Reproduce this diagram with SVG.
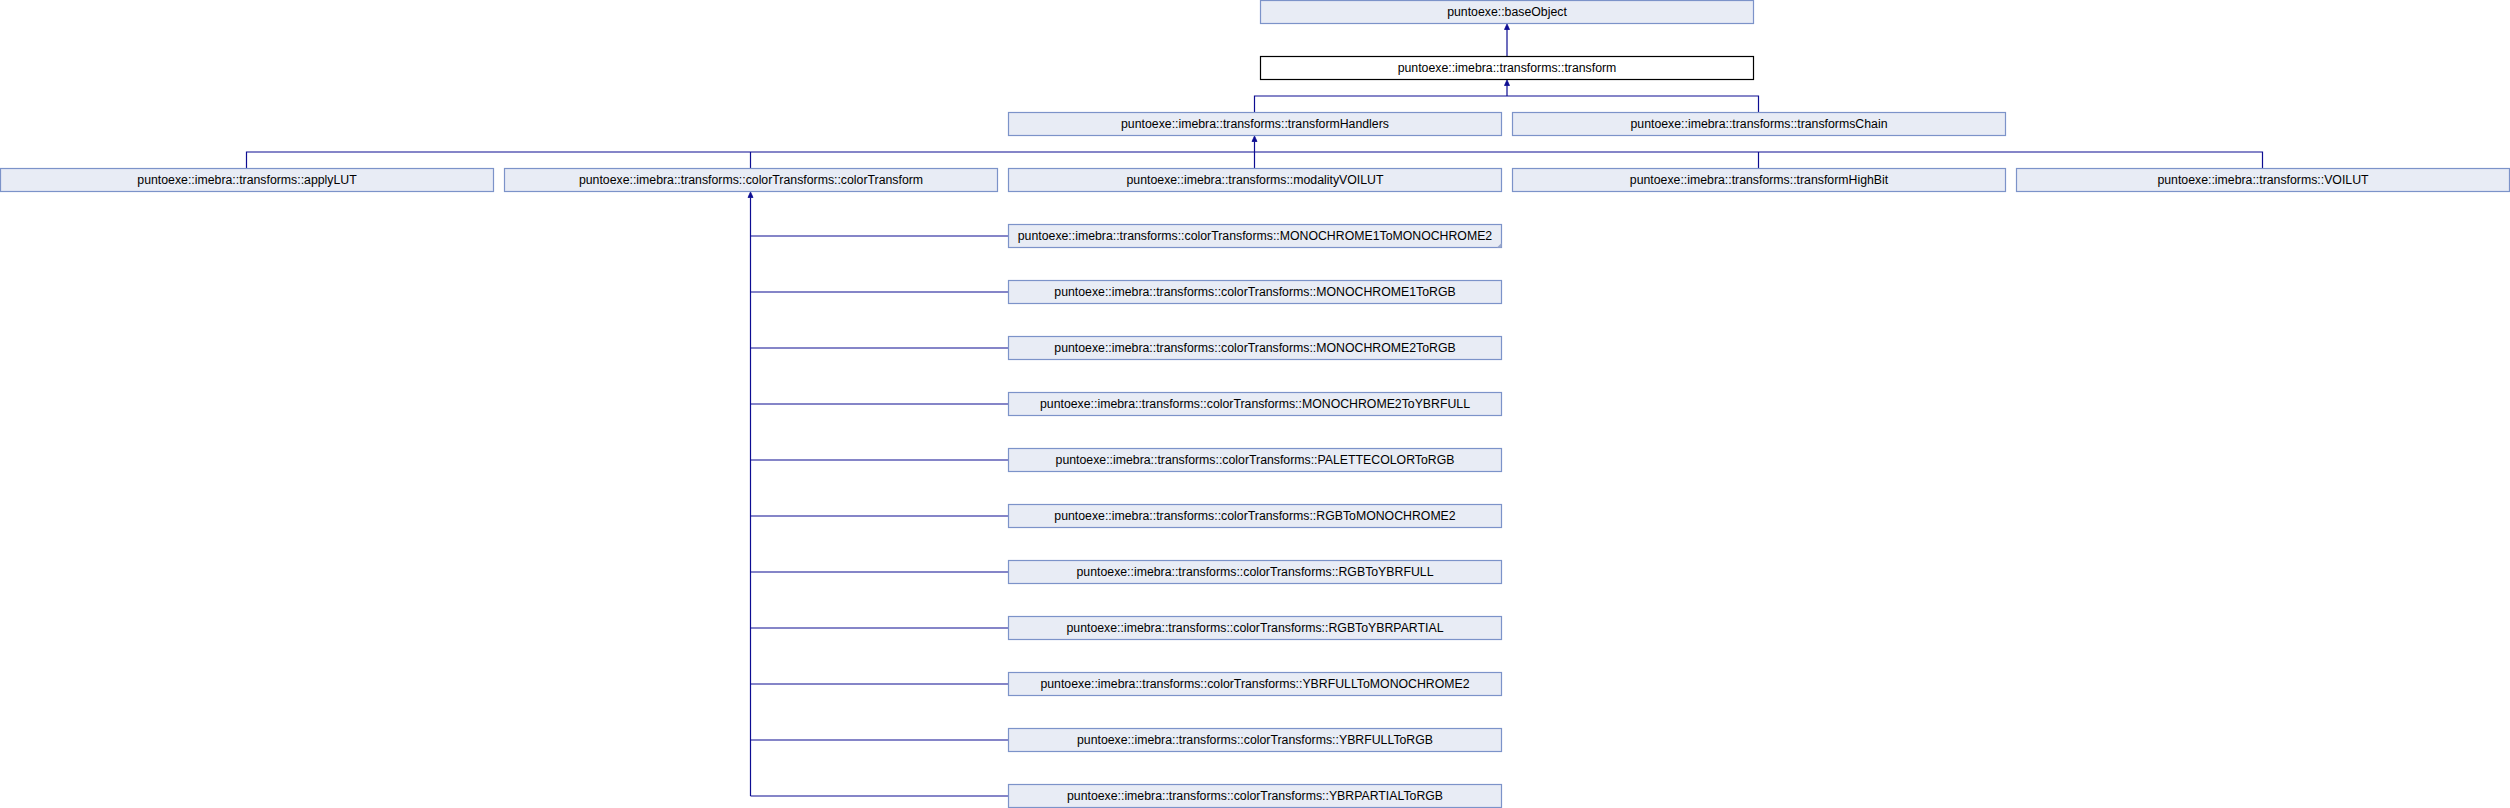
<svg xmlns="http://www.w3.org/2000/svg" width="2510" height="808" viewBox="0 0 2510 808">
<style>
.n{fill:#E8ECF5;stroke:#7C93C9;stroke-width:1.2}
.cur{fill:#FFFFFF;stroke:#000000;stroke-width:1.2}
.t{font-family:"Liberation Sans",Arial,sans-serif;font-size:12.3px;fill:#000000;text-anchor:middle}
.e{fill:none;stroke:#0D0D92;stroke-width:1.2}
.a{fill:#0D0D92;stroke:#0D0D92;stroke-width:0.8}
.corner{fill:#9AA8CC}
</style>
<rect width="2510" height="808" fill="#FFFFFF"/>
<g id="connectors">
<path class="e" d="M1507,56.5V29"/>
<polygon class="a" points="1507,24 1504.5,29.5 1509.5,29.5"/>
<path class="e" d="M1254.5,112.5V96H1758.5V112.5M1507,96V85.5"/>
<polygon class="a" points="1507,80 1504.5,85.5 1509.5,85.5"/>
<path class="e" d="M246.5,168.5V152H2262.5V168.5M750.5,152V168.5M1758.5,152V168.5M1254.5,168.5V141.5"/>
<polygon class="a" points="1254.5,136 1252,141.5 1257,141.5"/>
<path class="e" d="M750.5,796V197.5"/>
<polygon class="a" points="750.5,192 748,197.5 753,197.5"/>
<path class="e" d="M750.5,236H1008.5M750.5,292H1008.5M750.5,348H1008.5M750.5,404H1008.5M750.5,460H1008.5M750.5,516H1008.5M750.5,572H1008.5M750.5,628H1008.5M750.5,684H1008.5M750.5,740H1008.5M750.5,796H1008.5"/>
</g>
<g id="baseObject"><rect class="n" x="1260.5" y="0.5" width="493" height="23"/><text class="t" x="1507" y="16.4">puntoexe::baseObject</text></g>
<g id="transform"><rect class="cur" x="1260.5" y="56.5" width="493" height="23"/><text class="t" x="1507" y="72.4">puntoexe::imebra::transforms::transform</text></g>
<g id="transformHandlers"><rect class="n" x="1008.5" y="112.5" width="493" height="23"/><text class="t" x="1255" y="128.4">puntoexe::imebra::transforms::transformHandlers</text></g>
<g id="transformsChain"><rect class="n" x="1512.5" y="112.5" width="493" height="23"/><text class="t" x="1759" y="128.4">puntoexe::imebra::transforms::transformsChain</text></g>
<g id="applyLUT"><rect class="n" x="0.5" y="168.5" width="493" height="23"/><text class="t" x="247" y="184.4">puntoexe::imebra::transforms::applyLUT</text></g>
<g id="colorTransform"><rect class="n" x="504.5" y="168.5" width="493" height="23"/><text class="t" x="751" y="184.4">puntoexe::imebra::transforms::colorTransforms::colorTransform</text></g>
<g id="modalityVOILUT"><rect class="n" x="1008.5" y="168.5" width="493" height="23"/><text class="t" x="1255" y="184.4">puntoexe::imebra::transforms::modalityVOILUT</text></g>
<g id="transformHighBit"><rect class="n" x="1512.5" y="168.5" width="493" height="23"/><text class="t" x="1759" y="184.4">puntoexe::imebra::transforms::transformHighBit</text></g>
<g id="VOILUT"><rect class="n" x="2016.5" y="168.5" width="493" height="23"/><text class="t" x="2263" y="184.4">puntoexe::imebra::transforms::VOILUT</text></g>
<g id="MONOCHROME1ToMONOCHROME2"><rect class="n" x="1008.5" y="224.5" width="493" height="23"/><polygon class="corner" points="1501.5,243 1501.5,247.5 1497,247.5"/><text class="t" x="1255" y="240.4">puntoexe::imebra::transforms::colorTransforms::MONOCHROME1ToMONOCHROME2</text></g>
<g id="MONOCHROME1ToRGB"><rect class="n" x="1008.5" y="280.5" width="493" height="23"/><text class="t" x="1255" y="296.4">puntoexe::imebra::transforms::colorTransforms::MONOCHROME1ToRGB</text></g>
<g id="MONOCHROME2ToRGB"><rect class="n" x="1008.5" y="336.5" width="493" height="23"/><text class="t" x="1255" y="352.4">puntoexe::imebra::transforms::colorTransforms::MONOCHROME2ToRGB</text></g>
<g id="MONOCHROME2ToYBRFULL"><rect class="n" x="1008.5" y="392.5" width="493" height="23"/><text class="t" x="1255" y="408.4">puntoexe::imebra::transforms::colorTransforms::MONOCHROME2ToYBRFULL</text></g>
<g id="PALETTECOLORToRGB"><rect class="n" x="1008.5" y="448.5" width="493" height="23"/><text class="t" x="1255" y="464.4">puntoexe::imebra::transforms::colorTransforms::PALETTECOLORToRGB</text></g>
<g id="RGBToMONOCHROME2"><rect class="n" x="1008.5" y="504.5" width="493" height="23"/><text class="t" x="1255" y="520.4">puntoexe::imebra::transforms::colorTransforms::RGBToMONOCHROME2</text></g>
<g id="RGBToYBRFULL"><rect class="n" x="1008.5" y="560.5" width="493" height="23"/><text class="t" x="1255" y="576.4">puntoexe::imebra::transforms::colorTransforms::RGBToYBRFULL</text></g>
<g id="RGBToYBRPARTIAL"><rect class="n" x="1008.5" y="616.5" width="493" height="23"/><text class="t" x="1255" y="632.4">puntoexe::imebra::transforms::colorTransforms::RGBToYBRPARTIAL</text></g>
<g id="YBRFULLToMONOCHROME2"><rect class="n" x="1008.5" y="672.5" width="493" height="23"/><text class="t" x="1255" y="688.4">puntoexe::imebra::transforms::colorTransforms::YBRFULLToMONOCHROME2</text></g>
<g id="YBRFULLToRGB"><rect class="n" x="1008.5" y="728.5" width="493" height="23"/><text class="t" x="1255" y="744.4">puntoexe::imebra::transforms::colorTransforms::YBRFULLToRGB</text></g>
<g id="YBRPARTIALToRGB"><rect class="n" x="1008.5" y="784.5" width="493" height="23"/><text class="t" x="1255" y="800.4">puntoexe::imebra::transforms::colorTransforms::YBRPARTIALToRGB</text></g>
</svg>
